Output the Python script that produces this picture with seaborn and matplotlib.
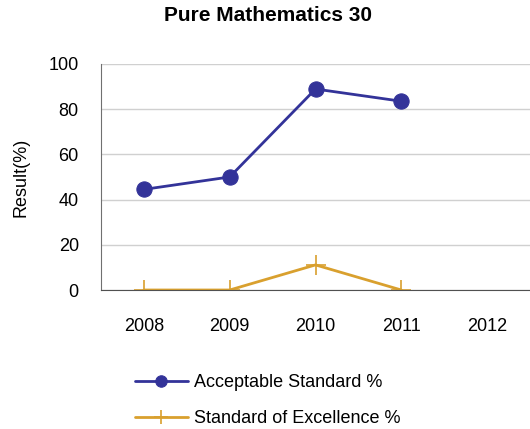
import numpy as np
import pandas as pd
import matplotlib
matplotlib.use('Agg')
import matplotlib.pyplot as plt
import seaborn as sns

# data
years = ['2008', '2009', '2010', '2011', '2012']
acceptable = [44.5, 50.0, 88.9, 83.5, np.nan]
excellence = [0.0, 0.0, 11.1, 0.0, np.nan]
y_ticks = [0, 20, 40, 60, 80, 100]

sns.set_style('white')
plt.rcParams['font.family'] = ['Liberation Sans', 'DejaVu Sans']
plt.rcParams['text.color'] = 'black'
plt.rcParams['xtick.color'] = 'black'
plt.rcParams['ytick.color'] = 'black'
plt.rcParams['axes.labelcolor'] = 'black'

df = pd.DataFrame({'pos': range(len(years)), 'year': years,
                   'acc': acceptable, 'exc': excellence})

fig = plt.figure(figsize=(5.3, 4.29), dpi=100)
ax = fig.add_axes([0.1906, 0.324, 0.8094, 0.527])

navy = '#333399'
gold = '#D9A02E'

sns.lineplot(data=df, x='pos', y='acc', ax=ax, color=navy, lw=2,
             marker='o', markersize=11, markeredgecolor=navy,
             label='Acceptable Standard %', legend=False)
sns.lineplot(data=df, x='pos', y='exc', ax=ax, color=gold, lw=2,
             marker='+', markersize=14, markeredgewidth=1.2, markeredgecolor=gold,
             label='Standard of Excellence %', legend=False)

ax.set_xlim(-0.5, len(years) - 0.5)
ax.set_ylim(0, 100)
ax.set_xticks(range(len(years)), years, fontsize=13)
ax.set_yticks(y_ticks, [str(v) for v in y_ticks], fontsize=13)
ax.tick_params(axis='x', length=0, pad=20)
ax.tick_params(axis='y', length=0, pad=16)
ax.yaxis.grid(True, color='#d0d0d0', lw=1)
ax.set_axisbelow(True)
for side in ['top', 'right']:
    ax.spines[side].set_visible(False)
ax.spines['left'].set_color('#707070')
ax.spines['bottom'].set_color('#505050')
ax.set_xlabel('')
ax.set_ylabel('Result(%)', fontsize=13, labelpad=14)

fig.suptitle('Pure Mathematics 30', x=0.505, y=0.985, fontsize=15, fontweight='bold')

handles, labels = ax.get_legend_handles_labels()
fig.legend(handles, labels, loc='center left', bbox_to_anchor=(0.255, 0.066),
           frameon=False, fontsize=13, handlelength=2.9, handletextpad=0.35,
           labelspacing=1.05, borderpad=0, borderaxespad=0, markerscale=0.75)

fig.savefig('out.png', dpi=100)
